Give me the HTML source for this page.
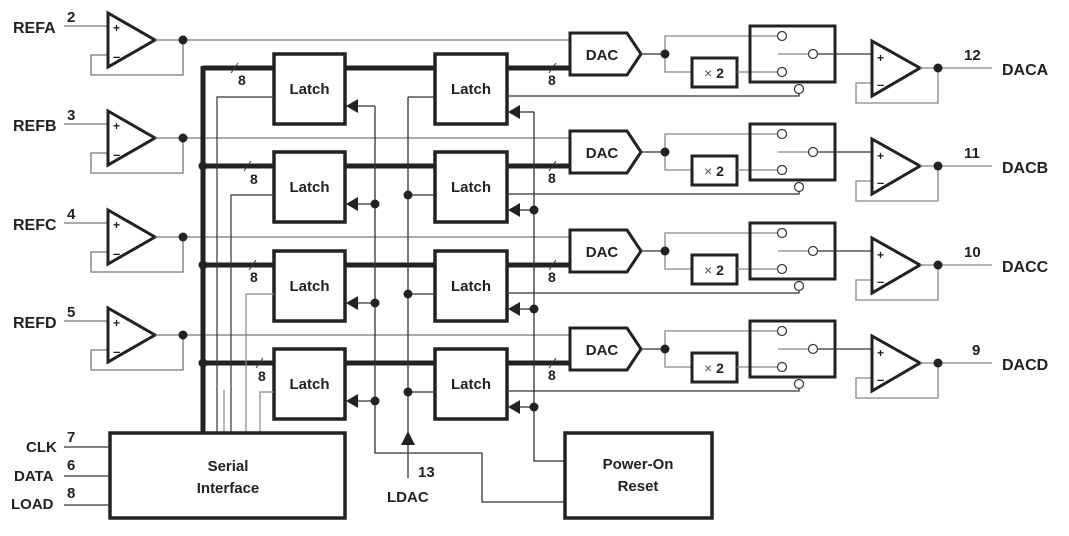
<!DOCTYPE html>
<html><head><meta charset="utf-8"><style>
html,body{margin:0;padding:0;background:#fff;}
svg{display:block;}
text{font-family:"Liberation Sans",Arial,sans-serif;font-weight:bold;fill:#222;}
</style></head><body>
<svg width="1069" height="536" viewBox="0 0 1069 536" xmlns="http://www.w3.org/2000/svg">
<defs>
<g id="ch">
  <!-- ref amp -->
  <line x1="64" y1="26" x2="108" y2="26" stroke="#777" stroke-width="1.3"/>
  <polyline points="108,55 91,55 91,75 183,75 183,40" fill="none" stroke="#777" stroke-width="1.3"/>
  <polygon points="108,13 155,40 108,67" fill="#fff" stroke="#222" stroke-width="3"/>
  <text x="113" y="32" font-size="12">+</text>
  <text x="113" y="61" font-size="13">–</text>
  <line x1="155" y1="40" x2="570" y2="40" stroke="#777" stroke-width="1.3"/>
  <circle cx="183" cy="40" r="4.5" fill="#222"/>
  <!-- bus -->
  <line x1="203" y1="68" x2="570" y2="68" stroke="#222" stroke-width="5"/>
  <!-- latch1 -->
  <rect x="274" y="54" width="71" height="70" fill="#fff" stroke="#222" stroke-width="3.5"/>
  <text x="309.5" y="94" font-size="15" text-anchor="middle">Latch</text>
  <!-- latch2 -->
  <rect x="435" y="54" width="72" height="70" fill="#fff" stroke="#222" stroke-width="3.5"/>
  <text x="471" y="94" font-size="15" text-anchor="middle">Latch</text>
  <line x1="408" y1="97" x2="435" y2="97" stroke="#333" stroke-width="1.3"/>
  <!-- arrows into latches -->
  <line x1="357" y1="106" x2="375" y2="106" stroke="#333" stroke-width="1.3"/>
  <polygon points="346,106 358,99 358,113" fill="#222"/>
  <line x1="519" y1="112" x2="534" y2="112" stroke="#333" stroke-width="1.3"/>
  <polygon points="508,112 520,105 520,119" fill="#222"/>
  <!-- slash marks -->
  <line x1="549" y1="73" x2="556" y2="63" stroke="#333" stroke-width="1"/>
  <text x="548" y="85" font-size="14">8</text>
  <!-- latch2 to switch -->
  <polyline points="507,96 799,96 799,93" fill="none" stroke="#333" stroke-width="1.3"/>
  <!-- DAC -->
  <polygon points="570,33 627,33 641,54 627,75 570,75" fill="#fff" stroke="#222" stroke-width="3"/>
  <text x="602" y="60" font-size="15" text-anchor="middle">DAC</text>
  <line x1="641" y1="54" x2="665" y2="54" stroke="#333" stroke-width="1.3"/>
  <polyline points="778,36 665,36 665,72 692,72" fill="none" stroke="#888" stroke-width="1.3"/>
  <circle cx="665" cy="54" r="4.5" fill="#222"/>
  <rect x="692" y="58" width="45" height="29" fill="#fff" stroke="#222" stroke-width="3"/>
  <text x="714" y="78" font-size="14" text-anchor="middle"><tspan font-weight="normal" fill="#555">×</tspan> 2</text>
  <line x1="737" y1="72" x2="778" y2="72" stroke="#888" stroke-width="1.3"/>
  <!-- switch -->
  <rect x="750" y="26" width="85" height="56" fill="none" stroke="#222" stroke-width="3"/>
  <circle cx="782" cy="36" r="4.5" fill="#fff" stroke="#333" stroke-width="1.2"/>
  <circle cx="782" cy="72" r="4.5" fill="#fff" stroke="#333" stroke-width="1.2"/>
  <line x1="778" y1="54" x2="809" y2="54" stroke="#888" stroke-width="1.3"/>
  <circle cx="813" cy="54" r="4.5" fill="#fff" stroke="#333" stroke-width="1.2"/>
  <line x1="817" y1="54" x2="872" y2="54" stroke="#333" stroke-width="1.3"/>
  <circle cx="799" cy="89" r="4.5" fill="#fff" stroke="#333" stroke-width="1.2"/>
  <!-- output amp -->
  <polyline points="872,83 856,83 856,103 938,103 938,68" fill="none" stroke="#888" stroke-width="1.3"/>
  <polygon points="872,41 920,68 872,96" fill="#fff" stroke="#222" stroke-width="3"/>
  <text x="877" y="62" font-size="12">+</text>
  <text x="877" y="89" font-size="13">–</text>
  <line x1="920" y1="68" x2="992" y2="68" stroke="#888" stroke-width="1.3"/>
  <circle cx="938" cy="68" r="4.5" fill="#222"/>
</g>
</defs>
<use href="#ch"/>
<use href="#ch" transform="translate(0,98)"/>
<use href="#ch" transform="translate(0,197)"/>
<use href="#ch" transform="translate(0,295)"/>

<!-- main bus -->
<line x1="203" y1="66" x2="203" y2="433" stroke="#222" stroke-width="5"/>
<circle cx="203" cy="166" r="4.5" fill="#222"/>
<circle cx="203" cy="265" r="4.5" fill="#222"/>
<circle cx="203" cy="363" r="4.5" fill="#222"/>
<!-- first slash marks -->
<line x1="231" y1="73" x2="238" y2="63" stroke="#333" stroke-width="1"/><text x="238" y="85" font-size="14">8</text>
<line x1="244" y1="171" x2="251" y2="161" stroke="#333" stroke-width="1"/><text x="250" y="184" font-size="14">8</text>
<line x1="249" y1="270" x2="256" y2="260" stroke="#333" stroke-width="1"/><text x="250" y="282" font-size="14">8</text>
<line x1="256" y1="368" x2="263" y2="358" stroke="#333" stroke-width="1"/><text x="258" y="381" font-size="14">8</text>
<!-- serial to latch1 lines -->
<polyline points="217,433 217,97 274,97" fill="none" stroke="#333" stroke-width="1.2"/>
<polyline points="231,433 231,195 274,195" fill="none" stroke="#333" stroke-width="1.2"/>
<polyline points="246,433 246,294 274,294" fill="none" stroke="#888" stroke-width="1.2"/>
<polyline points="260,433 260,392 274,392" fill="none" stroke="#888" stroke-width="1.2"/>
<line x1="224" y1="433" x2="224" y2="390" stroke="#888" stroke-width="1.2"/>
<!-- LDAC vertical -->
<line x1="408" y1="97" x2="408" y2="478" stroke="#333" stroke-width="1.3"/>
<polygon points="408,431 401,445 415,445" fill="#222"/>
<circle cx="408" cy="195" r="4.5" fill="#222"/>
<circle cx="408" cy="294" r="4.5" fill="#222"/>
<circle cx="408" cy="392" r="4.5" fill="#222"/>
<text x="418" y="477" font-size="15" font-weight="normal">13</text>
<text x="387" y="502" font-size="15">LDAC</text>
<!-- x375 vertical -->
<polyline points="375,106 375,453 482,453 482,502 565,502" fill="none" stroke="#333" stroke-width="1.3"/>
<circle cx="375" cy="204" r="4.5" fill="#222"/>
<circle cx="375" cy="303" r="4.5" fill="#222"/>
<circle cx="375" cy="401" r="4.5" fill="#222"/>
<!-- x534 vertical -->
<polyline points="534,112 534,461 565,461" fill="none" stroke="#333" stroke-width="1.3"/>
<circle cx="534" cy="210" r="4.5" fill="#222"/>
<circle cx="534" cy="309" r="4.5" fill="#222"/>
<circle cx="534" cy="407" r="4.5" fill="#222"/>

<!-- serial interface -->
<rect x="110" y="433" width="235" height="85" fill="#fff" stroke="#222" stroke-width="3.5"/>
<text x="228" y="471" font-size="15" text-anchor="middle">Serial</text>
<text x="228" y="493" font-size="15" text-anchor="middle">Interface</text>
<line x1="64" y1="447" x2="110" y2="447" stroke="#333" stroke-width="1.3"/>
<line x1="64" y1="476" x2="110" y2="476" stroke="#333" stroke-width="1.3"/>
<line x1="64" y1="505" x2="110" y2="505" stroke="#333" stroke-width="1.3"/>
<text x="26" y="452" font-size="15">CLK</text><text x="67" y="442" font-size="15">7</text>
<text x="14" y="481" font-size="15">DATA</text><text x="67" y="470" font-size="15">6</text>
<text x="11" y="509" font-size="15">LOAD</text><text x="67" y="498" font-size="15">8</text>
<!-- power-on reset -->
<rect x="565" y="433" width="147" height="85" fill="#fff" stroke="#222" stroke-width="3.5"/>
<text x="638" y="469" font-size="15" text-anchor="middle">Power-On</text>
<text x="638" y="491" font-size="15" text-anchor="middle">Reset</text>

<!-- ref labels -->
<text x="13" y="33" font-size="16">REFA</text><text x="67" y="22" font-size="15">2</text>
<text x="13" y="131" font-size="16">REFB</text><text x="67" y="120" font-size="15">3</text>
<text x="13" y="230" font-size="16">REFC</text><text x="67" y="219" font-size="15">4</text>
<text x="13" y="328" font-size="16">REFD</text><text x="67" y="317" font-size="15">5</text>
<!-- out labels -->
<text x="964" y="60" font-size="15">12</text><text x="1002" y="75" font-size="16">DACA</text>
<text x="964" y="158" font-size="15">11</text><text x="1002" y="173" font-size="16">DACB</text>
<text x="964" y="257" font-size="15">10</text><text x="1002" y="272" font-size="16">DACC</text>
<text x="972" y="355" font-size="15">9</text><text x="1002" y="370" font-size="16">DACD</text>
</svg>
</body></html>
